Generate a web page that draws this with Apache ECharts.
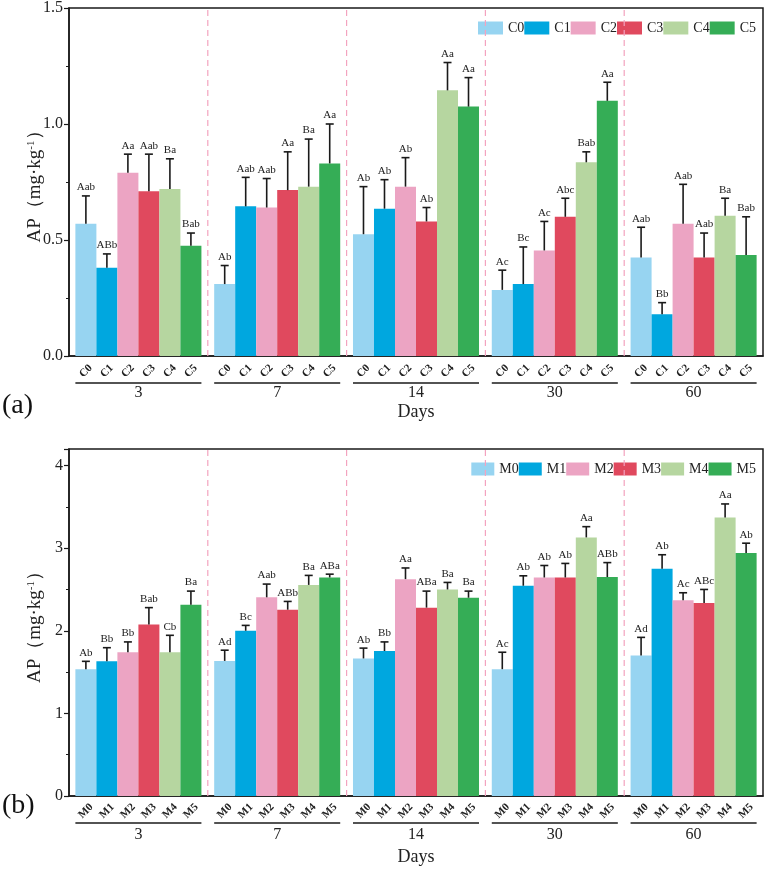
<!DOCTYPE html>
<html>
<head>
<meta charset="utf-8">
<script src="https://cdn.jsdelivr.net/npm/echarts@6/dist/echarts.min.js"></script>
<style>
  html, body { margin: 0; padding: 0; background: #fff; }
  #main { width: 767px; height: 869px; }
</style>
</head>
<body>
<div id="main"></div>
<script>
var days = ['3', '7', '14', '30', '60'];
var colors = ['#97d4f1', '#00a7df', '#eca4c3', '#e0495e', '#b6d6a0', '#35ad56'];

// panel (a)
var cNames = ['C0', 'C1', 'C2', 'C3', 'C4', 'C5'];
var cMean = [
    [0.57, 0.31, 0.525, 0.285, 0.425],
    [0.38, 0.645, 0.635, 0.31, 0.18],
    [0.79, 0.64, 0.73, 0.455, 0.57],
    [0.71, 0.715, 0.58, 0.6, 0.425],
    [0.72, 0.73, 1.145, 0.835, 0.605],
    [0.475, 0.83, 1.075, 1.1, 0.435]
];
var cSd = [
    [0.12, 0.08, 0.205, 0.085, 0.13],
    [0.06, 0.125, 0.125, 0.16, 0.05],
    [0.08, 0.125, 0.125, 0.125, 0.17],
    [0.16, 0.165, 0.06, 0.08, 0.105],
    [0.13, 0.205, 0.12, 0.045, 0.075],
    [0.055, 0.17, 0.125, 0.08, 0.165]
];
var cSig = [
    ['Aab', 'Ab', 'Ab', 'Ac', 'Aab'],
    ['ABb', 'Aab', 'Ab', 'Bc', 'Bb'],
    ['Aa', 'Aab', 'Ab', 'Ac', 'Aab'],
    ['Aab', 'Aa', 'Ab', 'Abc', 'Aab'],
    ['Ba', 'Ba', 'Aa', 'Bab', 'Ba'],
    ['Bab', 'Aa', 'Aa', 'Aa', 'Bab']
];

// panel (b)
var mNames = ['M0', 'M1', 'M2', 'M3', 'M4', 'M5'];
var mMean = [
    [1.535, 1.635, 1.665, 1.535, 1.70],
    [1.63, 2.0, 1.755, 2.545, 2.75],
    [1.74, 2.405, 2.625, 2.645, 2.37],
    [2.075, 2.255, 2.28, 2.645, 2.335],
    [1.74, 2.555, 2.5, 3.13, 3.37],
    [2.315, 2.645, 2.4, 2.65, 2.94]
];
var mSd = [
    [0.095, 0.13, 0.125, 0.205, 0.22],
    [0.165, 0.065, 0.11, 0.12, 0.17],
    [0.125, 0.16, 0.135, 0.145, 0.09],
    [0.205, 0.10, 0.20, 0.17, 0.165],
    [0.205, 0.115, 0.085, 0.13, 0.165],
    [0.165, 0.04, 0.08, 0.175, 0.12]
];
var mSig = [
    ['Ab', 'Ad', 'Ab', 'Ac', 'Ad'],
    ['Bb', 'Bc', 'Bb', 'Ab', 'Ab'],
    ['Bb', 'Aab', 'Aa', 'Ab', 'Ac'],
    ['Bab', 'ABb', 'ABa', 'Ab', 'ABc'],
    ['Cb', 'Ba', 'Ba', 'Aa', 'Aa'],
    ['Ba', 'ABa', 'Ba', 'ABb', 'Ab']
];

var yTop = { min: 0, max: 1.5, step: 0.5 };
var yBot = { min: 0, max: 4.2, step: 1 };

var FONT = '"Liberation Serif", "Times New Roman", serif';
var GAP = 0.092;
var INK = '#1a1a1a';

function errRender(names, sig, ymax) {
    return function (params, api) {
        var d = api.value(0), t = api.value(1), m = api.value(2), s = api.value(3);
        var band = api.size([1, 0])[0];
        var inner = band * (1 - GAP);
        var bw = inner / names.length;
        var base = api.coord([d, 0]);
        var x = base[0] - inner / 2 + (t + 0.5) * bw;
        var yb = base[1];
        var ym = api.coord([d, m])[1];
        var ye = api.coord([d, m + s])[1];
        var kids = [
            { type: 'line', shape: { x1: x, y1: ym, x2: x, y2: ye }, style: { stroke: INK, lineWidth: 1.6 } },
            { type: 'line', shape: { x1: x - 4, y1: ye, x2: x + 4, y2: ye }, style: { stroke: INK, lineWidth: 1.6 } },
            { type: 'text', x: x, y: ye - 3, style: { text: sig[t][d], align: 'center', verticalAlign: 'bottom', fontFamily: FONT, fontSize: 11, fill: '#222' } },
            { type: 'text', x: x, y: yb + 15, rotation: Math.PI / 4, style: { text: names[t], align: 'center', verticalAlign: 'middle', fontFamily: FONT, fontSize: 11, fontWeight: 'bold', fill: '#222' } }
        ];
        if (t === 0) {
            kids.push({ type: 'line', shape: { x1: base[0] - inner / 2, y1: yb + 27, x2: base[0] + inner / 2, y2: yb + 27 }, style: { stroke: INK, lineWidth: 1.5 } });
            if (d > 0) {
                var yt = api.coord([d, ymax])[1];
                kids.push({ type: 'line', shape: { x1: base[0] - band / 2, y1: yb, x2: base[0] - band / 2, y2: yt }, style: { stroke: '#f3a3bf', lineWidth: 1.2, lineDash: [6, 4] } });
            }
        }
        return { type: 'group', children: kids };
    };
}

function barSeries(names, mean, idx) {
    return names.map(function (n, i) {
        return {
            name: n,
            type: 'bar',
            xAxisIndex: idx,
            yAxisIndex: idx,
            data: mean[i],
            barGap: '0%',
            barCategoryGap: (GAP * 100) + '%',
            itemStyle: { color: colors[i] },
            silent: true
        };
    });
}

function errSeries(names, mean, sd, sig, idx, ymax) {
    var data = [];
    for (var t = 0; t < names.length; t++) {
        for (var d = 0; d < days.length; d++) {
            data.push([d, t, mean[t][d], sd[t][d]]);
        }
    }
    return {
        type: 'custom',
        xAxisIndex: idx,
        yAxisIndex: idx,
        data: data,
        encode: { x: 0, y: 2 },
        clip: false,
        silent: true,
        z: 5,
        renderItem: errRender(names, sig, ymax)
    };
}

function xAxisFor(idx, margin, nameGap) {
    return {
        type: 'category',
        gridIndex: idx,
        data: days,
        name: 'Days',
        nameLocation: 'middle',
        nameGap: nameGap,
        nameMoveOverlap: false,
        nameTextStyle: { fontFamily: FONT, fontSize: 18, color: '#222' },
        axisLine: { lineStyle: { color: INK, width: 1.5 } },
        axisTick: { show: false },
        axisLabel: { interval: 0, margin: margin, fontFamily: FONT, fontSize: 16, color: '#222' },
        splitLine: { show: false }
    };
}

function yAxisFor(idx, sc, fmt) {
    return {
        type: 'value',
        gridIndex: idx,
        min: sc.min,
        max: sc.max,
        interval: sc.step,
        name: '{a|AP（mg·kg}{s|-1}{a|）}',
        nameLocation: 'middle',
        nameGap: 24,
        nameMoveOverlap: false,
        nameTextStyle: {
            rich: {
                a: { fontFamily: FONT, fontSize: 19, color: '#222' },
                s: { fontFamily: FONT, fontSize: 11, color: '#222', verticalAlign: 'top', padding: [0, 0, 8, 0] }
            }
        },
        axisLine: { show: true, lineStyle: { color: INK, width: 1.5 } },
        axisTick: { show: true, length: 5, lineStyle: { color: INK, width: 1.2 } },
        minorTick: { show: true, splitNumber: 2, length: 3, lineStyle: { color: INK, width: 1 } },
        axisLabel: { margin: 6, fontFamily: FONT, fontSize: 16, color: '#222', formatter: fmt },
        splitLine: { show: false }
    };
}

function legendFor(names, top, w) {
    return {
        data: names,
        top: top,
        right: 6,
        icon: 'rect',
        itemWidth: w,
        itemHeight: 13,
        itemGap: 0,
        selectedMode: false,
        textStyle: { fontFamily: FONT, fontSize: 14, color: '#222' }
    };
}

var chart = echarts.init(document.getElementById('main'));
chart.setOption({
    animation: false,
    backgroundColor: '#fff',
    grid: [
        { left: 69, right: 4, top: 8, height: 348, show: true, borderColor: INK, borderWidth: 1.5, backgroundColor: 'transparent' },
        { left: 69, right: 4, top: 449, height: 347, show: true, borderColor: INK, borderWidth: 1.5, backgroundColor: 'transparent' }
    ],
    legend: [legendFor(cNames, 16, 25), legendFor(mNames, 457, 23)],
    xAxis: [xAxisFor(0, 29, 47), xAxisFor(1, 31, 52)],
    yAxis: [
        yAxisFor(0, yTop, function (v) { return v.toFixed(1); }),
        yAxisFor(1, yBot, function (v) { return Math.abs(v - Math.round(v)) < 1e-6 ? String(Math.round(v)) : ''; })
    ],
    graphic: [
        { type: 'text', left: 2, top: 392, style: { text: '(a)', fontFamily: FONT, fontSize: 28, fill: '#111' } },
        { type: 'text', left: 2, top: 792, style: { text: '(b)', fontFamily: FONT, fontSize: 28, fill: '#111' } }
    ],
    series: barSeries(cNames, cMean, 0)
        .concat(barSeries(mNames, mMean, 1))
        .concat([errSeries(cNames, cMean, cSd, cSig, 0, yTop.max), errSeries(mNames, mMean, mSd, mSig, 1, yBot.max)])
});
</script>
</body>
</html>
